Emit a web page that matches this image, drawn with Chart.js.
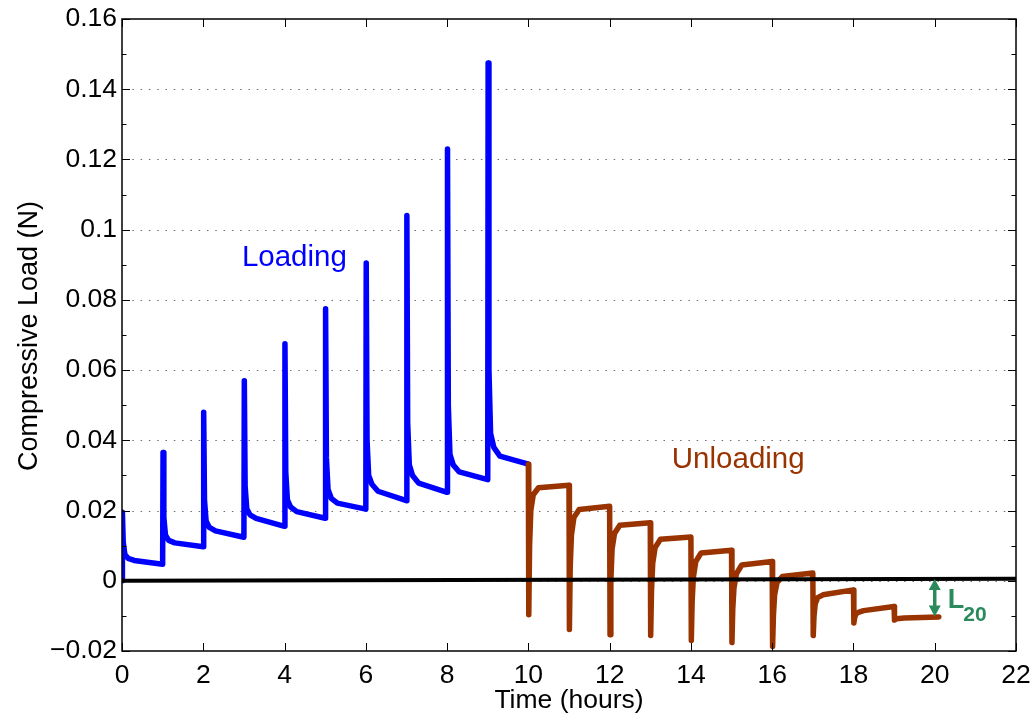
<!DOCTYPE html>
<html>
<head>
<meta charset="utf-8">
<script src="https://cdn.jsdelivr.net/npm/chart.js@4.4.1/dist/chart.umd.min.js"></script>
<style>
  html, body { margin: 0; padding: 0; background: #fff; }
  #chart { display: block; }
</style>
</head>
<body>
<canvas id="chart" width="1034" height="717"></canvas>
<script>
const FONT = '"Liberation Sans", Arial, Helvetica, sans-serif';

// ---- axes ----
const xTicks = [0, 2, 4, 6, 8, 10, 12, 14, 16, 18, 20, 22];
const yTicks = [-0.02, 0, 0.02, 0.04, 0.06, 0.08, 0.10, 0.12, 0.14, 0.16];
const yTickLabels = ["\u22120.02", "0", "0.02", "0.04", "0.06", "0.08", "0.1", "0.12", "0.14", "0.16"];
const yTickMarks = [-0.02, -0.01, 0, 0.01, 0.02, 0.03, 0.04, 0.05, 0.06, 0.07, 0.08,
                    0.09, 0.10, 0.11, 0.12, 0.13, 0.14, 0.15, 0.16];

// ---- loading (blue), one row per hourly step ----
const loadingTime = [
    0, 0.01, 0.03, 0.07, 0.15, 0.3,
    1, 1.01, 1.03, 1.07, 1.15, 1.3,
    2, 2.01, 2.03, 2.07, 2.15, 2.3,
    3, 3.01, 3.03, 3.07, 3.15, 3.3,
    4, 4.01, 4.03, 4.07, 4.15, 4.3,
    5, 5.01, 5.03, 5.07, 5.15, 5.3,
    6, 6.01, 6.03, 6.07, 6.15, 6.3,
    7, 7.01, 7.03, 7.07, 7.15, 7.3,
    8, 8.01, 8.03, 8.07, 8.15, 8.3,
    9, 9.01, 9.03, 9.07, 9.15, 9.3,
    10
];
const loadingLoad = [
    0,      0.0195, 0.011, 0.0075, 0.0064, 0.0058,
    0.0047, 0.0365, 0.018, 0.013,  0.0115, 0.0108,
    0.0097, 0.048,  0.023, 0.017,  0.0152, 0.0142,
    0.0124, 0.057,  0.027, 0.0205, 0.0188, 0.0178,
    0.0155, 0.0675, 0.031, 0.023,  0.021,  0.0197,
    0.0178, 0.0775, 0.035, 0.026,  0.0235, 0.0221,
    0.0204, 0.0905, 0.040, 0.030,  0.0275, 0.0255,
    0.0228, 0.104,  0.045, 0.033,  0.030,  0.0278,
    0.0252, 0.123,  0.050, 0.036,  0.033,  0.031,
    0.0288, 0.1475, 0.060, 0.042,  0.038,  0.0355,
    0.0332
];

// ---- unloading (brown) ----
const unloadingTime = [
    10, 10.01, 10.03, 10.06, 10.12, 10.25,
    11, 11.01, 11.03, 11.06, 11.12, 11.25,
    12, 12.01, 12.03, 12.06, 12.12, 12.25,
    13, 13.01, 13.03, 13.06, 13.12, 13.25,
    14, 14.01, 14.03, 14.06, 14.12, 14.25,
    15, 15.01, 15.03, 15.06, 15.12, 15.25,
    16, 16.01, 16.03, 16.06, 16.12, 16.25,
    17, 17.01, 17.03, 17.06, 17.12, 17.25,
    18, 18.01, 18.03, 18.06, 18.12, 18.25,
    19, 19.01, 19.06, 19.25,
    20.1
];
const unloadingLoad = [
    0.0332,  -0.0097, 0.010,   0.020,   0.0245,  0.0265,
    0.0272,  -0.0139, 0.004,   0.013,   0.018,   0.0203,
    0.0212,  -0.0154, 0.0,     0.009,   0.0135,  0.0158,
    0.0165,  -0.0156, -0.003,  0.005,   0.0095,  0.0118,
    0.0125,  -0.0170, -0.006,  0.001,   0.0055,  0.0079,
    0.0087,  -0.0176, -0.008,  -0.002,  0.002,   0.0045,
    0.0055,  -0.0187, -0.010,  -0.004,  -0.0005, 0.0012,
    0.0022,  -0.0156, -0.010,  -0.0065, -0.0048, -0.004,
    -0.0026, -0.0120, -0.0105, -0.0095, -0.009,  -0.0085,
    -0.0073, -0.0112, -0.0108, -0.0106,
    -0.0103
];

// ---- zero reference line (black) ----
const baselineTime = [0, 22];
const baselineLoad = [0, 0.0006];

// ---- L20 marker ----
const l20Time = 20;
const l20Top = 0.0005;
const l20Bottom = -0.0102;

const BLUE = "#0000ff";
const BROWN = "#993300";
const GREEN = "#2a8a5c";

function toPoints(xs, ys) {
    return xs.map((x, i) => ({ x: x, y: ys[i] }));
}

// ============================================================
// axes frame, dotted grid, inward ticks, titles and annotations
// ============================================================
const framePlugin = {
    id: "frame",
    beforeDatasetsDraw(chart) {
        const { ctx, chartArea: a, scales: { y } } = chart;
        ctx.save();
        ctx.strokeStyle = "#6e6e6e";
        ctx.lineWidth = 1;
        ctx.setLineDash([1.5, 6.8]);
        yTicks.forEach(v => {
            if (v <= -0.02 || v >= 0.16) return;
            const py = Math.round(y.getPixelForValue(v)) + 0.5;
            ctx.beginPath();
            ctx.moveTo(a.left + 2, py);
            ctx.lineTo(a.right, py);
            ctx.stroke();
        });
        ctx.restore();
    },
    afterDatasetsDraw(chart) {
        const { ctx, chartArea: a, scales: { x, y } } = chart;
        ctx.save();

        // L20 double arrow
        const ax = x.getPixelForValue(l20Time);
        const ay1 = y.getPixelForValue(l20Top);
        const ay2 = y.getPixelForValue(l20Bottom);
        ctx.strokeStyle = GREEN;
        ctx.fillStyle = GREEN;
        ctx.lineWidth = 3.5;
        ctx.beginPath();
        ctx.moveTo(ax, ay1 + 6);
        ctx.lineTo(ax, ay2 - 6);
        ctx.stroke();
        ctx.beginPath();
        ctx.moveTo(ax, ay1);
        ctx.lineTo(ax - 6, ay1 + 11);
        ctx.lineTo(ax + 6, ay1 + 11);
        ctx.closePath();
        ctx.fill();
        ctx.beginPath();
        ctx.moveTo(ax, ay2);
        ctx.lineTo(ax - 6, ay2 - 11);
        ctx.lineTo(ax + 6, ay2 - 11);
        ctx.closePath();
        ctx.fill();

        // annotation texts
        ctx.textAlign = "left";
        ctx.textBaseline = "alphabetic";
        ctx.font = "29.5px " + FONT;
        ctx.fillStyle = BLUE;
        ctx.fillText("Loading", x.getPixelForValue(2.95), y.getPixelForValue(0.0897));
        ctx.fillStyle = BROWN;
        ctx.fillText("Unloading", x.getPixelForValue(13.53), y.getPixelForValue(0.0322));

        ctx.fillStyle = GREEN;
        ctx.font = "bold 27px " + FONT;
        const lx = x.getPixelForValue(20.32);
        ctx.fillText("L", lx, y.getPixelForValue(-0.0077));
        const lw = ctx.measureText("L").width;
        ctx.font = "bold 21px " + FONT;
        ctx.fillText("20", lx + lw - 1, y.getPixelForValue(-0.0114));

        // box
        ctx.strokeStyle = "#000";
        ctx.lineWidth = 1.5;
        ctx.strokeRect(a.left, a.top, a.right - a.left, a.bottom - a.top);

        // inward ticks
        ctx.lineWidth = 1;
        ctx.beginPath();
        xTicks.forEach(v => {
            const px = Math.round(x.getPixelForValue(v)) + 0.5;
            ctx.moveTo(px, a.bottom); ctx.lineTo(px, a.bottom - 8);
            ctx.moveTo(px, a.top); ctx.lineTo(px, a.top + 8);
        });
        yTickMarks.forEach(v => {
            const py = Math.round(y.getPixelForValue(v)) + 0.5;
            const len = yTicks.some(t => Math.abs(t - v) < 1e-9) ? 8 : 4.5;
            ctx.moveTo(a.left, py); ctx.lineTo(a.left + len, py);
            ctx.moveTo(a.right, py); ctx.lineTo(a.right - len, py);
        });
        ctx.stroke();
        ctx.restore();
    },
    afterDraw(chart) {
        const { ctx, chartArea: a } = chart;
        ctx.save();
        ctx.fillStyle = "#000";
        ctx.font = "26.5px " + FONT;
        ctx.textAlign = "center";
        ctx.textBaseline = "alphabetic";
        ctx.fillText("Time (hours)", (a.left + a.right) / 2, 708);
        ctx.translate(37, (a.top + a.bottom) / 2 + 1);
        ctx.rotate(-Math.PI / 2);
        ctx.font = "27px " + FONT;
        ctx.fillText("Compressive Load (N)", 0, 0);
        ctx.restore();
    }
};

new Chart(document.getElementById("chart").getContext("2d"), {
    type: "line",
    data: {
        datasets: [
            {
                label: "Zero",
                data: toPoints(baselineTime, baselineLoad),
                borderColor: "#000",
                borderWidth: 4,
                pointRadius: 0,
                order: 0
            },
            {
                label: "Loading",
                data: toPoints(loadingTime, loadingLoad),
                borderColor: BLUE,
                borderWidth: 5.5,
                borderJoinStyle: "round",
                borderCapStyle: "round",
                pointRadius: 0,
                order: 2
            },
            {
                label: "Unloading",
                data: toPoints(unloadingTime, unloadingLoad),
                borderColor: BROWN,
                borderWidth: 5.5,
                borderJoinStyle: "round",
                borderCapStyle: "round",
                pointRadius: 0,
                order: 1
            }
        ]
    },
    options: {
        responsive: false,
        devicePixelRatio: 1,
        animation: false,
        layout: { padding: { top: 19, right: 18, left: 0, bottom: 0 } },
        plugins: {
            legend: { display: false },
            tooltip: { enabled: false }
        },
        scales: {
            x: {
                type: "linear",
                min: 0,
                max: 22,
                afterBuildTicks: s => { s.ticks = xTicks.map(v => ({ value: v })); },
                afterFit: s => { s.height = 66; s.paddingLeft = 0; s.paddingRight = 0; },
                grid: { display: false, drawTicks: false },
                border: { display: false },
                ticks: {
                    color: "#000",
                    padding: 9,
                    maxRotation: 0,
                    autoSkip: false,
                    font: { family: FONT, size: 26.5 }
                }
            },
            y: {
                type: "linear",
                min: -0.02,
                max: 0.16,
                afterBuildTicks: s => { s.ticks = yTicks.map(v => ({ value: v })); },
                afterFit: s => { s.width = 122; s.paddingTop = 0; s.paddingBottom = 0; },
                grid: { display: false, drawTicks: false },
                border: { display: false },
                ticks: {
                    color: "#000",
                    padding: 5,
                    autoSkip: false,
                    font: { family: FONT, size: 26.5 },
                    callback: (value, index) => yTickLabels[index]
                }
            }
        }
    },
    plugins: [framePlugin]
});
</script>
</body>
</html>
